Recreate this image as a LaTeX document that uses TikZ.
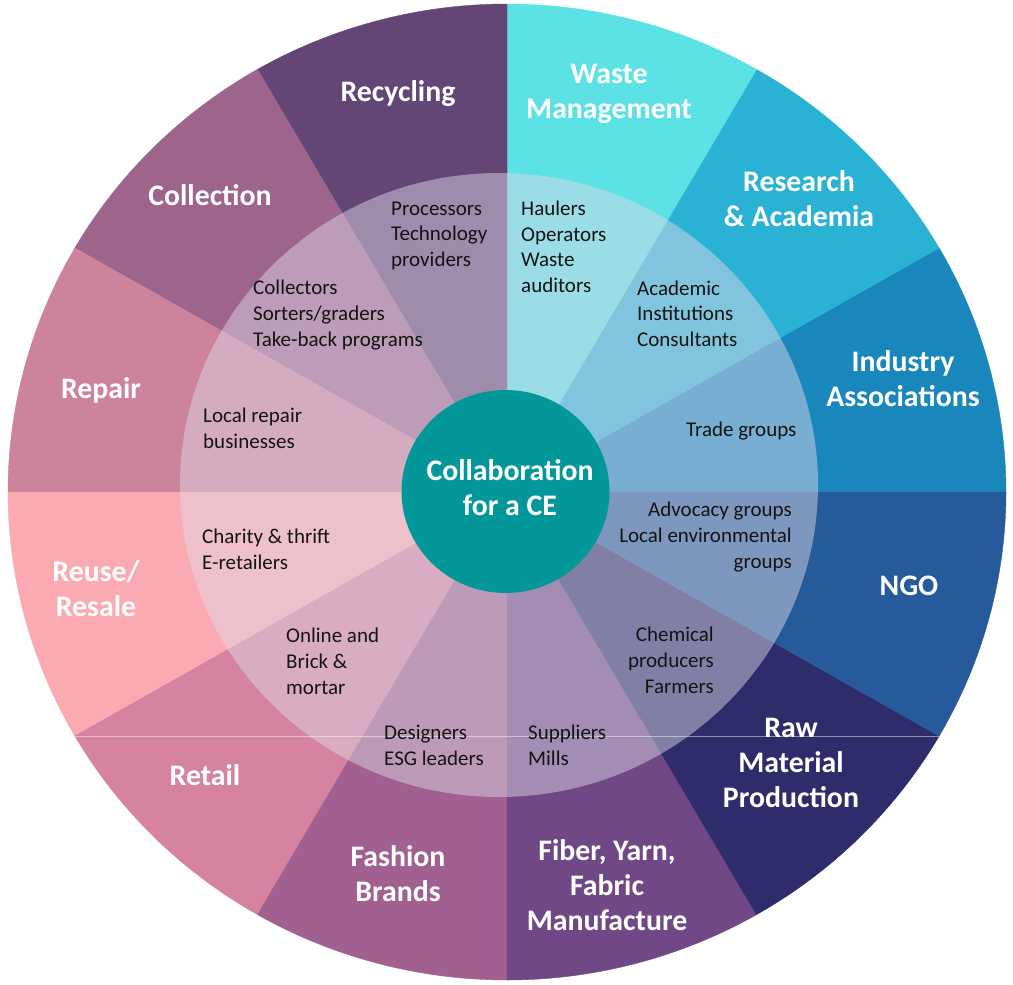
\documentclass[tikz,border=0pt]{standalone}
\usepackage{fontspec}
\setmainfont{Carlito}
\definecolor{cInd}{RGB}{26,135,188}
\definecolor{cRes}{RGB}{42,178,212}
\definecolor{cWas}{RGB}{92,225,229}
\definecolor{cRec}{RGB}{99,70,117}
\definecolor{cCol}{RGB}{157,100,140}
\definecolor{cRep}{RGB}{205,131,155}
\definecolor{cReu}{RGB}{251,170,177}
\definecolor{cRet}{RGB}{213,131,160}
\definecolor{cFas}{RGB}{161,96,143}
\definecolor{cFib}{RGB}{111,72,133}
\definecolor{cRaw}{RGB}{46,44,106}
\definecolor{cNGO}{RGB}{38,90,155}
\definecolor{cVeil}{RGB}{222,218,232}
\definecolor{cHub}{RGB}{4,151,154}
\definecolor{cInk}{RGB}{20,20,20}
\begin{document}
\begin{tikzpicture}[x=1pt,y=-1pt,
  outerlbl/.style={font=\bfseries\fontsize{29.8}{35}\selectfont, text=white, align=center, anchor=base, inner sep=0pt},
  innerL/.style={font=\fontsize{21}{25.8}\selectfont, text=cInk, align=left, anchor=base west, inner sep=0pt},
  innerR/.style={font=\fontsize{21}{25.8}\selectfont, text=cInk, align=right, anchor=base east, inner sep=0pt}]
\useasboundingbox (0,0) rectangle (1013,985);
\coordinate (O) at (507,492);
% outer sectors (visual angle a to a+30, counter-clockwise from east)
\foreach \a/\c in {0/cInd,30/cRes,60/cWas,90/cRec,120/cCol,150/cRep,180/cReu,210/cRet,240/cFas,270/cFib,300/cRaw,330/cNGO}{
  \fill[\c, draw=\c, line width=0.4pt] (O) -- ++(-\a:499 and 488)
     arc[start angle=-\a, end angle=-\a-30, x radius=499, y radius=488] -- cycle;
}
% lighter inner ring
\fill[cVeil, opacity=0.48] (499,485) ellipse [x radius=319, y radius=312];
% faint chord
\path (O) ++(150:499 and 488) coordinate (chL);
\path (O) ++(30:499 and 488) coordinate (chR);
\draw[white, opacity=0.45, line width=0.8pt] (chL) -- (chR);
% hub
\fill[cHub] (505.5,491.5) ellipse [x radius=104, y radius=101.5];
\node[outerlbl] (hub) at (510,515) {Collaboration\\for a CE};
% outer labels (base = baseline of the last line)
\node[outerlbl] (rec) at (398,101) {Recycling};
\node[outerlbl] (was) at (609,118.3) {Waste\\Management};
\node[outerlbl] (res) at (799,226) {Research\\\& Academia};
\node[outerlbl] (ind) at (903,406) {Industry\\Associations};
\node[outerlbl] (ngo) at (909,595) {NGO};
\node[outerlbl] (raw) at (791,807) {Raw\\Material\\Production};
\node[outerlbl] (fib) at (607,930) {Fiber, Yarn,\\Fabric\\Manufacture};
\node[outerlbl] (fas) at (398,901) {Fashion\\Brands};
\node[outerlbl] (ret) at (205,785) {Retail};
\node[outerlbl] (reu) at (96,616.7) {Reuse/\\Resale};
\node[outerlbl] (rep) at (101,398) {Repair};
\node[outerlbl] (col) at (210,205) {Collection};
% inner labels (base = baseline of the last line)
\node[innerL] (proc) at (391,266.7) {Processors\\Technology\\providers};
\node[innerL] (coll) at (253,346.5) {Collectors\\Sorters/graders\\Take-back programs};
\node[innerL] (loc) at (203,448.3) {Local repair\\businesses};
\node[innerL] (haul) at (521,292.7) {Haulers\\Operators\\Waste\\auditors};
\node[innerL] (acad) at (637,346.7) {Academic\\Institutions\\Consultants};
\node[innerL] (trade) at (686,436.7) {Trade groups};
\node[innerR] (adv) at (792,568.3) {Advocacy groups\\Local environmental\\groups};
\node[innerR] (chem) at (714,693.3) {Chemical\\producers\\Farmers};
\node[innerL] (supp) at (528,765) {Suppliers\\Mills};
\node[innerL] (des) at (384,765) {Designers\\ESG leaders};
\node[innerL] (onl) at (286,694) {Online and\\Brick \&\\mortar};
\node[innerL] (char) at (202,569.3) {Charity \& thrift\\E-retailers};
\end{tikzpicture}
\end{document}
